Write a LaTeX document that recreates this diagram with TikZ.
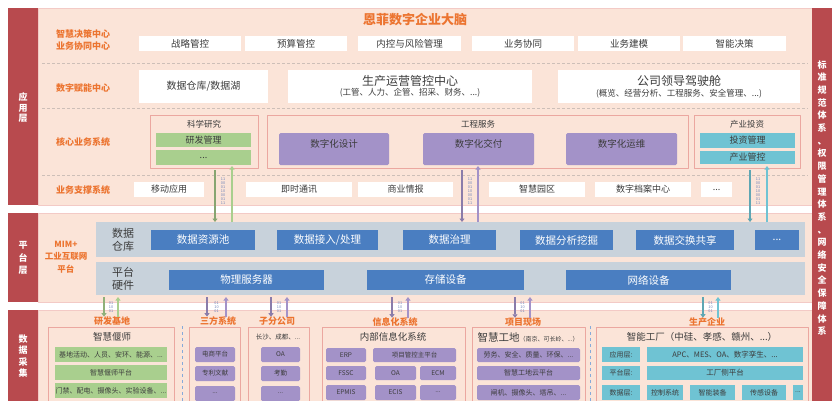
\documentclass[tikz,border=0pt]{standalone}
\usepackage{fontspec}
\setmainfont{Noto Sans CJK SC}
\usetikzlibrary{arrows.meta}
\definecolor{redbar}{HTML}{B84A4E}
\definecolor{peach}{HTML}{FBE4D8}
\definecolor{pinkline}{HTML}{EBA7A0}
\definecolor{orng}{HTML}{EC7430}
\definecolor{grn}{HTML}{A9CF8E}
\definecolor{prp}{HTML}{A392C8}
\definecolor{cyn}{HTML}{6FC3D3}
\definecolor{blu}{HTML}{4A7EC1}
\definecolor{gpanel}{HTML}{C8D2DB}
\definecolor{dashc}{HTML}{CDBFB8}
\definecolor{bits}{HTML}{6A80B8}
\definecolor{txt}{HTML}{3C3C3C}
\definecolor{vdash}{HTML}{86AADA}
\tikzset{
  base/.style={inner sep=0pt, outer sep=0pt, text=txt, align=center, font=\fontsize{9}{10.5}\selectfont},
  wbox/.style={base, fill=white},
  gbar/.style={base, fill=grn},
  pbox/.style={base, fill=prp, rounded corners=1.5pt},
  cbar/.style={base, fill=cyn},
  bbar/.style={base, fill=blu, text=white, font=\fontsize{10.5}{12}\selectfont},
  gpan/.style={base, fill=gpanel},
  frm/.style={base, draw=pinkline, line width=.8pt},
  ttl/.style={base, font=\fontsize{8.5}{10}\selectfont},
  olbl/.style={base, text=orng, font=\bfseries\fontsize{9}{12.5}\selectfont},
  vlbl/.style={base, text=white, font=\bfseries\fontsize{9}{10.5}\selectfont},
  bitcol/.style={base, text=bits, font=\fontsize{3.8}{4}\selectfont},
  sep/.style={dashc, dash pattern=on 3pt off 2pt, line width=.6pt},
  arw/.style={line width=2pt, -{Triangle[length=3.5pt,width=5pt]}},
  sml/.style={font=\fontsize{7}{8}\selectfont},
  tiny/.style={font=\fontsize{6.5}{8}\selectfont}
}
% box from corner (x1,y1) to corner (x2,y2)
\newcommand\bx[7]{\node[#1, minimum width={#5-#3}, minimum height={#6-#4}] (#2) at ({(#3+#5)/2},{(#4+#6)/2}) {#7};}
\begin{document}
\begin{tikzpicture}[x=1pt, y=-1pt, line join=round]
\useasboundingbox (0,0) rectangle (832,400);
% layers
\fill[peach, draw=pinkline!60, line width=.4pt] (38,8) rectangle (812,205);
\fill[peach, draw=pinkline!60, line width=.4pt] (38,213) rectangle (812,302);
\fill[peach, draw=pinkline!60, line width=.4pt] (38,310) rectangle (812,402);
\fill[redbar] (8,8) rectangle (38,205);
\fill[redbar] (8,213) rectangle (38,302);
\fill[redbar] (8,310) rectangle (38,402);
\fill[redbar] (812,8) rectangle (832,402);
\node[vlbl] (yyc) at (23,108) {应\\用\\层};
\node[vlbl, font=\bfseries\fontsize{9}{12.5}\selectfont] (ptc) at (23,258) {平\\台\\层};
\node[vlbl, font=\bfseries\fontsize{9}{11.5}\selectfont] (sjc) at (23,356) {数\\据\\采\\集};
\node[vlbl, font=\bfseries\fontsize{9}{12.7}\selectfont] (bzc) at (822,198)
  {标\\准\\规\\范\\体\\系\\、\\权\\限\\管\\理\\体\\系\\、\\网\\络\\安\\全\\保\\障\\体\\系};
\draw[sep] (42,63) -- (808,63);
\draw[sep] (42,108) -- (808,108);
\draw[sep] (42,175) -- (808,175);

% 应用层
\node[olbl, font=\bfseries\fontsize{13}{15}\selectfont] (dn) at (415,20) {恩菲数字企业大脑};
\node[olbl] (zh) at (83,40) {智慧决策中心\\业务协同中心};
\bx{wbox, font=\fontsize{9.5}{11}\selectfont}{zl}{139}{36}{241}{51}{战略管控}
\bx{wbox, font=\fontsize{9.5}{11}\selectfont}{ys}{245}{36}{347}{51}{预算管控}
\bx{wbox, font=\fontsize{9.5}{11}\selectfont}{nk}{358}{36}{461}{51}{内控与风险管理}
\bx{wbox, font=\fontsize{9.5}{11}\selectfont}{xt}{472}{36}{574}{51}{业务协同}
\bx{wbox, font=\fontsize{9.5}{11}\selectfont}{jm}{578}{36}{680}{51}{业务建模}
\bx{wbox, font=\fontsize{9.5}{11}\selectfont}{jc}{683}{36}{786}{51}{智能决策}

\node[olbl] (fn) at (83,88) {数字赋能中心};
\bx{wbox, font=\fontsize{10}{12}\selectfont}{ck}{139}{70}{268}{103}{数据仓库/数据湖}
\bx{wbox}{scyy}{288}{70}{532}{103}{{\fontsize{12}{14}\selectfont 生产运营管控中心}\\{\fontsize{8.5}{10}\selectfont (工管、人力、企管、招采、财务、...)}}
\bx{wbox}{jsc}{558}{70}{800}{103}{{\fontsize{12}{14}\selectfont 公司领导驾驶舱}\\{\fontsize{8.5}{10}\selectfont (概览、经营分析、工程服务、安全管理、...)}}

\node[olbl] (hx) at (83,142) {核心业务系统};
\bx{frm}{kx}{150}{115}{258}{168}{}
\node[ttl] (kxt) at (204,124) {科学研究};
\bx{gbar}{yf}{156}{133}{251}{147}{研发管理}
\bx{gbar}{yfd}{156}{150}{251}{165}{...}
\bx{frm}{gc}{267}{115}{688}{168}{}
\node[ttl] (gct) at (478,124) {工程服务};
\bx{pbox, text depth=12pt, font=\fontsize{9.5}{11}\selectfont}{sjsj}{279}{133}{389}{165}{数字化设计}
\bx{pbox, text depth=12pt, font=\fontsize{9.5}{11}\selectfont}{sjjf}{423}{133}{534}{165}{数字化交付}
\bx{pbox, text depth=12pt, font=\fontsize{9.5}{11}\selectfont}{sjyw}{566}{133}{677}{165}{数字化运维}
\bx{frm}{cy}{694}{115}{800}{168}{}
\node[ttl] (cyt) at (747,124) {产业投资};
\bx{cbar}{tz}{700}{133}{795}{148}{投资管理}
\bx{cbar}{cg}{700}{151}{795}{164}{产业管控}

\node[olbl] (zc) at (83,190) {业务支撑系统};
\bx{wbox}{yd}{134}{182}{204}{197}{移动应用}
\bx{wbox}{js}{246}{182}{352}{197}{即时通讯}
\bx{wbox}{sy}{358}{182}{453}{197}{商业情报}
\bx{wbox}{yq}{489}{182}{585}{197}{智慧园区}
\bx{wbox}{da}{595}{182}{691}{197}{数字档案中心}
\bx{wbox}{zcd}{701}{182}{732}{197}{...}

% 平台层
\node[olbl, font=\bfseries\fontsize{8.5}{12.5}\selectfont] (mim) at (66,257) {MIM+\\工业互联网\\平台};
\bx{gpan}{dk}{96}{222}{805}{257}{}
\node[base, font=\fontsize{11}{13}\selectfont] (dkt) at (123,240) {数据\\仓库};
\bx{bbar}{zy}{151}{230}{255}{250}{数据资源池}
\bx{bbar}{jr}{277}{230}{378}{250}{数据接入/处理}
\bx{bbar}{zl2}{403}{230}{496}{250}{数据治理}
\bx{bbar}{fx}{520}{230}{613}{250}{数据分析挖掘}
\bx{bbar}{jh}{636}{230}{734}{250}{数据交换共享}
\bx{bbar}{dkd}{755}{230}{799}{250}{...}
\bx{gpan}{yj}{96}{262}{805}{295}{}
\node[base, font=\fontsize{11}{13}\selectfont] (yjt) at (123,279) {平台\\硬件};
\bx{bbar}{wl}{169}{270}{324}{290}{物理服务器}
\bx{bbar}{cc}{367}{270}{524}{290}{存储设备}
\bx{bbar}{wlsb}{566}{270}{731}{290}{网络设备}

% 应用层 <-> 平台层
\coordinate (ga) at (215,170); \coordinate (gb) at (232,166);
\coordinate (pa) at (462,170); \coordinate (pb) at (478,166);
\coordinate (ca) at (750,170); \coordinate (cb) at (767,166);
\draw[arw, grn!80!black] (ga) -- (ga |- dk.north);
\draw[arw, grn] (gb |- dk.north) -- (gb);
\draw[arw, prp!85!black] (pa) -- (pa |- dk.north);
\draw[arw, prp] (pb |- dk.north) -- (pb);
\draw[arw, cyn!85!black] (ca) -- (ca |- dk.north);
\draw[arw, cyn] (cb |- dk.north) -- (cb);
\foreach \x/\n in {223/b1, 470/b2, 758/b3}
  \node[bitcol] (\n) at (\x,191) {11\\00\\01\\10\\00\\01\\11};

% 数据采集层
\node[olbl] (yd0) at (112,321) {研发基地};
\node[olbl] (sf0) at (218,321) {三方系统};
\node[olbl] (zf0) at (277,321) {子分公司};
\node[olbl] (xx0) at (395,322) {信息化系统};
\node[olbl] (xm0) at (523,322) {项目现场};
\node[olbl] (sc0) at (707,322) {生产企业};
\draw[vdash, dashed, line width=.7pt] (182,326) -- (182,402);
\draw[vdash, dashed, line width=.7pt] (590,326) -- (590,402);

\bx{frm}{ydf}{48}{327}{174}{404}{}
\node[base, font=\fontsize{9.5}{11}\selectfont] (ydt) at (112,337) {智慧偃师};
\bx{gbar, sml}{yd1}{55}{347}{167}{362}{基地活动、人员、安环、能源、...}
\bx{gbar, sml}{yd2}{55}{365}{167}{380}{智慧偃师平台}
\bx{gbar, sml}{yd3}{55}{383}{167}{398}{门禁、配电、摄像头、实验设备、...}

\bx{frm}{sff}{189}{327}{240}{404}{}
\bx{pbox, tiny}{sf1}{195}{347}{235}{362}{电商平台}
\bx{pbox, tiny}{sf2}{195}{366}{235}{381}{专利文献}
\bx{pbox, tiny}{sf3}{195}{386}{235}{401}{...}

\bx{frm}{zff}{248}{327}{309}{404}{}
\node[base, tiny] (zft) at (278,337) {长沙、成都、...};
\bx{pbox, tiny}{zf1}{261}{347}{300}{362}{OA}
\bx{pbox, tiny}{zf2}{261}{366}{300}{381}{考勤}
\bx{pbox, tiny}{zf3}{261}{386}{300}{401}{...}

\bx{frm}{xxf}{322}{327}{465}{404}{}
\node[base, font=\fontsize{9.5}{11}\selectfont] (xxt) at (393,337) {内部信息化系统};
\bx{pbox, tiny}{erp}{326}{348}{366}{362}{ERP}
\bx{pbox, tiny}{xmgk}{373}{348}{456}{362}{项目管控主平台}
\bx{pbox, tiny}{fssc}{326}{366}{366}{380}{FSSC}
\bx{pbox, tiny}{oa}{375}{366}{416}{380}{OA}
\bx{pbox, tiny}{ecm}{420}{366}{456}{380}{ECM}
\bx{pbox, tiny}{epmis}{326}{385}{366}{400}{EPMIS}
\bx{pbox, tiny}{ecis}{375}{385}{416}{400}{ECIS}
\bx{pbox, tiny}{xxd}{420}{385}{456}{400}{...}

\bx{frm}{xmf}{472}{327}{585}{404}{}
\node[base, font=\fontsize{10.5}{12}\selectfont] (xmt) at (528,337) {智慧工地{\fontsize{6}{7}\selectfont（南京、可长岭、...）}};
\bx{pbox, sml}{xm1}{477}{348}{580}{362}{劳务、安全、质量、环保、...}
\bx{pbox, sml}{xm2}{477}{366}{580}{380}{智慧工地云平台}
\bx{pbox, sml}{xm3}{477}{385}{580}{400}{闸机、摄像头、塔吊、...}

\bx{frm}{scf}{596}{327}{808}{404}{}
\node[base, font=\fontsize{9.5}{11}\selectfont] (sct) at (702,337) {智能工厂（中硅、孝感、赣州、...）};
\bx{cbar, sml}{yyl}{602}{347}{640}{362}{应用层:}
\bx{cbar, font=\fontsize{7.5}{9}\selectfont}{apc}{647}{347}{803}{362}{APC、MES、OA、数字孪生、...}
\bx{cbar, sml}{ptl}{602}{366}{640}{380}{平台层:}
\bx{cbar, font=\fontsize{7.5}{9}\selectfont}{gcpt}{647}{366}{803}{380}{工厂侧平台}
\bx{cbar, sml}{sjl}{602}{385}{640}{400}{数据层:}
\bx{cbar, sml}{kz}{647}{385}{683}{400}{控制系统}
\bx{cbar, sml}{zn}{690}{385}{735}{400}{智能装备}
\bx{cbar, sml}{cg2}{742}{385}{786}{400}{传感设备}
\bx{cbar, sml}{scd}{793}{385}{803}{400}{...}

% 平台层 <-> 数据采集层
\foreach \xa/\xb/\cl/\lb in {104/118/grn/yd0, 207/226/prp/sf0, 271/287/prp/zf0, 392/408/prp/xx0, 515/530/prp/xm0, 703/718/cyn/sc0}{
  \coordinate (dn\lb) at (\xa,297);
  \coordinate (up\lb) at (\xb,297);
  \draw[arw, \cl!85!black] (dn\lb) -- (dn\lb |- \lb.north);
  \draw[arw, \cl] (up\lb |- \lb.north) -- (up\lb);
  \node[bitcol] (bt\lb) at ({(\xa+\xb)/2},307) {01\\10\\01};
}
\end{tikzpicture}
\end{document}
